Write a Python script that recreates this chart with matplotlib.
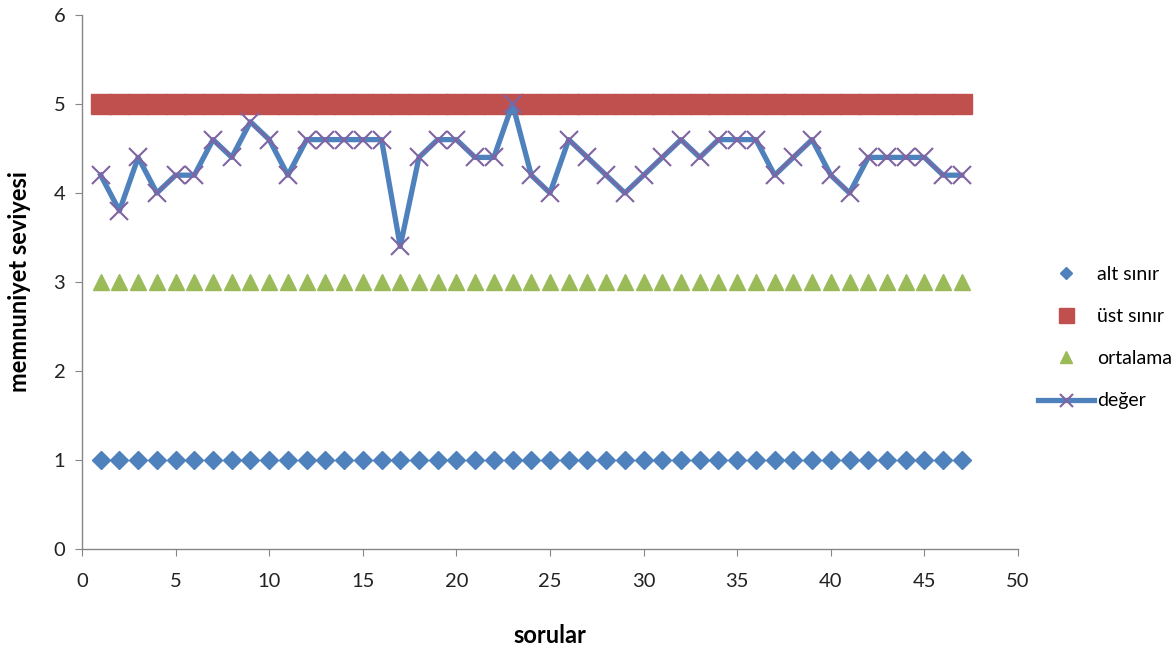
import matplotlib
matplotlib.use("Agg")
import matplotlib.pyplot as plt

sorular = list(range(1, 48))
alt_sinir = [1] * 47
ust_sinir = [5] * 47
ortalama = [3] * 47
deger = [4.2, 3.8, 4.4, 4.0, 4.2, 4.2, 4.6, 4.4, 4.8, 4.6,
         4.2, 4.6, 4.6, 4.6, 4.6, 4.6, 3.4, 4.4, 4.6, 4.6,
         4.4, 4.4, 5.0, 4.2, 4.0, 4.6, 4.4, 4.2, 4.0, 4.2,
         4.4, 4.6, 4.4, 4.6, 4.6, 4.6, 4.2, 4.4, 4.6, 4.2,
         4.0, 4.4, 4.4, 4.4, 4.4, 4.2, 4.2]
x_ticks = [0, 5, 10, 15, 20, 25, 30, 35, 40, 45, 50]
y_ticks = [0, 1, 2, 3, 4, 5, 6]

plt.rcParams['font.family'] = ['Lato', 'DejaVu Sans']

fig = plt.figure(figsize=(11.76, 6.53), dpi=100)
ax = fig.add_axes([82/1176, 1 - 549/653, (1018-82)/1176, (549-15)/653])

ax.plot(sorular, alt_sinir, linestyle='none', marker='D', markersize=9,
        color='#4F81BD', label='alt sınır')
ax.plot(sorular, ust_sinir, linestyle='none', marker='s', markersize=15,
        color='#C0504D', label='üst sınır')
ax.plot(sorular, ortalama, linestyle='none', marker='^', markersize=12,
        color='#9BBB59', label='ortalama')
ax.plot(sorular, deger, linestyle='-', linewidth=3.8, color='#4F81BD',
        marker='x', markersize=13, markeredgewidth=1.5,
        markeredgecolor='#8064A2', label='değer')

ax.set_xlim(0, 50)
ax.set_ylim(0, 6)
ax.set_xticks(x_ticks)
ax.set_yticks(y_ticks)
for s in ['top', 'right']:
    ax.spines[s].set_visible(False)
for s in ['left', 'bottom']:
    ax.spines[s].set_color('#868686')
    ax.spines[s].set_linewidth(1.0)
ax.tick_params(axis='both', direction='out', length=5, color='#868686',
               labelsize=14.5, labelcolor='#222222', pad=7)
ax.tick_params(axis='x', pad=12)

ax.set_xlabel('sorular', fontsize=17, fontweight='bold', labelpad=25)
ax.set_ylabel('memnuniyet seviyesi', fontsize=17, fontweight='bold', labelpad=16)

fig.legend(loc='upper left', bbox_to_anchor=(1020/1176, 1 - 248/653),
           frameon=False, fontsize=14, handlelength=2.9, labelspacing=1.3,
           handletextpad=0.15, markerscale=0.72)

fig.savefig('out.png', dpi=100)
